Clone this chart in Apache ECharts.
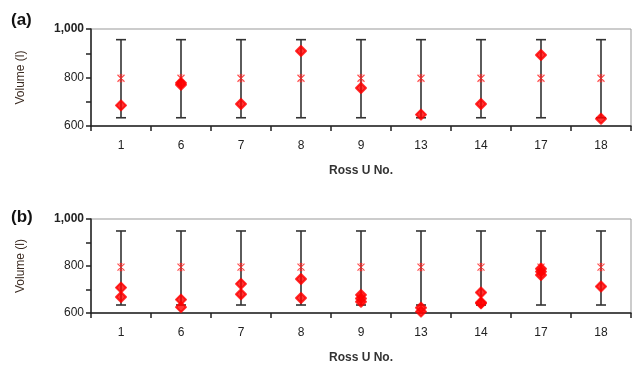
<!DOCTYPE html>
<html>
<head>
<meta charset="utf-8">
<script src="https://cdn.jsdelivr.net/npm/echarts@6/dist/echarts.min.js"></script>
<style>
  html, body { margin: 0; padding: 0; background: #fff; }
  #chart { width: 632px; height: 365px; }
</style>
</head>
<body>
<div id="chart"></div>
<script>
const categories = ["1", "6", "7", "8", "9", "13", "14", "17", "18"]

// panel (a)
const meanA = [797, 797, 797, 797, 797, 797, 797, 797, 797]
const lowA = [634, 634, 634, 634, 634, 634, 634, 634, 634]
const highA = [956, 956, 956, 956, 956, 956, 956, 956, 956]
const pointsA = [[685], [770, 778], [691], [909], [757], [647], [691], [893], [630]]

// panel (b)
const meanB = [795, 795, 795, 795, 795, 795, 795, 795, 795]
const lowB = [634, 634, 634, 634, 634, 634, 634, 634, 634]
const highB = [949, 949, 949, 949, 949, 949, 949, 949, 949]
const pointsB = [
  [708, 668], [657, 625], [724, 680], [745, 664], [677, 662, 648],
  [622, 606], [687, 645, 641], [788, 776, 762], [713]
]

const yTicks = { 600: "600", 800: "800", 1000: "{b|1,000}" }

const chart = echarts.init(document.getElementById("chart"))

const font = "Liberation Sans"
const starPath = "path://M0,0L10,10M10,0L0,10M5,0L5,10M3,0L7,0M3,10L7,10"

function errorBars(low, high, idx) {
  return {
    type: "custom",
    xAxisIndex: idx,
    yAxisIndex: idx,
    z: 2,
    data: low.map((v, i) => [i, v, high[i]]),
    renderItem: (params, api) => {
      const lo = api.coord([api.value(0), api.value(1)])
      const hi = api.coord([api.value(0), api.value(2)])
      const w = 5
      const style = { stroke: "#333", lineWidth: 1.6 }
      return {
        type: "group",
        children: [
          { type: "line", shape: { x1: lo[0], y1: lo[1], x2: hi[0], y2: hi[1] }, style },
          { type: "line", shape: { x1: lo[0] - w, y1: lo[1], x2: lo[0] + w, y2: lo[1] }, style },
          { type: "line", shape: { x1: hi[0] - w, y1: hi[1], x2: hi[0] + w, y2: hi[1] }, style },
        ],
      }
    },
  }
}

function meanSeries(mean, idx) {
  return {
    type: "scatter",
    xAxisIndex: idx,
    yAxisIndex: idx,
    z: 3,
    symbol: starPath,
    symbolSize: 7,
    itemStyle: { color: "none", borderColor: "#ff2020", borderWidth: 1.2 },
    data: mean.map((v, i) => [i, v]),
  }
}

function pointSeries(points, idx) {
  const data = []
  points.forEach((list, i) => list.forEach((v) => data.push([i, v])))
  return {
    type: "scatter",
    xAxisIndex: idx,
    yAxisIndex: idx,
    z: 4,
    symbol: "diamond",
    symbolSize: 10,
    itemStyle: { color: "#ff0000", borderColor: "#ff0000", borderWidth: 2, borderJoin: "round" },
    data,
  }
}

function xAxis(idx) {
  return {
    type: "category",
    gridIndex: idx,
    data: categories,
    boundaryGap: true,
    name: "Ross U No.",
    nameLocation: "middle",
    nameGap: 39,
    nameTextStyle: { fontFamily: font, fontSize: 12, fontWeight: "bold", color: "#333" },
    axisLine: { lineStyle: { color: "#222", width: 1.5 } },
    axisTick: { show: true, length: 5, inside: false, lineStyle: { color: "#222", width: 1.5 } },
    axisLabel: { fontFamily: font, fontSize: 12, color: "#222", margin: 14 },
  }
}

function yAxis(idx) {
  return {
    type: "value",
    gridIndex: idx,
    min: 600,
    max: 1000,
    interval: 100,
    name: "Volume (l)",
    nameLocation: "middle",
    nameGap: 64,
    nameTextStyle: { fontFamily: font, fontSize: 12, color: "#3a2a20" },
    axisLine: { show: true, lineStyle: { color: "#222", width: 1.5 } },
    axisTick: { show: true, length: 5, inside: false, lineStyle: { color: "#222", width: 1.5 } },
    splitLine: { show: false },
    axisLabel: {
      fontFamily: font,
      fontSize: 12,
      color: "#222",
      margin: 7,
      formatter: (v) => yTicks[v] || "",
      rich: { b: { fontFamily: font, fontSize: 12, fontWeight: "bold", color: "#222" } },
    },
  }
}

const option = {
  backgroundColor: "#fff",
  animation: false,
  grid: [
    { left: 91, right: 1, top: 29, height: 97, show: true, borderColor: "#999", borderWidth: 1, containLabel: false },
    { left: 91, right: 1, top: 219, height: 95, show: true, borderColor: "#999", borderWidth: 1, containLabel: false },
  ],
  graphic: [
    { type: "text", left: 11, top: 12, style: { text: "(a)", font: "bold 17px Liberation Sans", fill: "#111" } },
    { type: "text", left: 11, top: 209, style: { text: "(b)", font: "bold 17px Liberation Sans", fill: "#111" } },
  ],
  xAxis: [xAxis(0), xAxis(1)],
  yAxis: [yAxis(0), yAxis(1)],
  series: [
    errorBars(lowA, highA, 0),
    meanSeries(meanA, 0),
    pointSeries(pointsA, 0),
    errorBars(lowB, highB, 1),
    meanSeries(meanB, 1),
    pointSeries(pointsB, 1),
  ],
}

chart.setOption(option)
</script>
</body>
</html>
